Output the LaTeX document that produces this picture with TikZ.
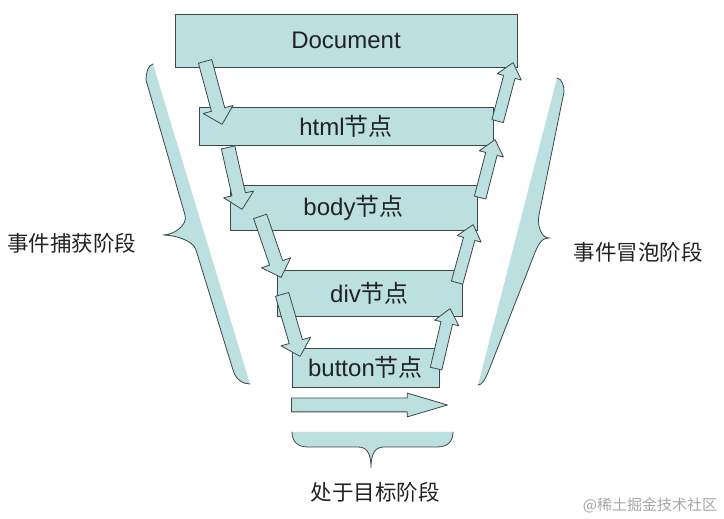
\documentclass[tikz,border=0pt]{standalone}
\usepackage{fontspec}
\setmainfont{Liberation Sans}
\newfontfamily\cjk{Noto Sans CJK SC}
\usepackage{tikz}
\usetikzlibrary{calc,shapes.arrows}
\definecolor{fillc}{HTML}{BCE0E0}
\definecolor{edge}{HTML}{3C4848}
\definecolor{ink}{HTML}{222222}
\tikzset{
  box/.style={draw=edge, fill=fillc, line width=0.8pt, inner sep=0pt, text=ink, font=\fontsize{24}{28}\selectfont},
  arr/.style={single arrow, draw=edge, fill=fillc, line width=0.8pt, line join=round, inner xsep=0pt, minimum width=0pt, anchor=tail},
  caparrow/.style={arr, inner ysep=6.5pt, single arrow head extend=8.5pt, single arrow tip angle=90},
  bubarrow/.style={arr, inner ysep=5.5pt, single arrow head extend=6.5pt, single arrow tip angle=80},
  tgtarrow/.style={arr, inner ysep=6.5pt, single arrow head extend=5pt, single arrow tip angle=33},
  brc/.style={fill=fillc},
  brcline/.style={draw=edge, line width=0.8pt, line cap=round},
  phase/.style={text=ink, font=\cjk\fontsize{21.5}{24}\selectfont},
  wmark/.style={text=black!35, font=\cjk\fontsize{15}{17}\selectfont},
}
% block arrow from #3 to #4
\newcommand{\blockarrow}[4]{%
  \path let \p1=($(#4)-(#3)$), \n1={atan2(\y1,\x1)}, \n2={veclen(\x1,\y1)} in
    node[#1, rotate=\n1, minimum height=\n2] (#2) at (#3) {};
}
\def\leftbrace{(153,455) .. controls (148,454) and (146,446) .. (146,439) -- (185,304)
  .. controls (188,294) and (174,284) .. (163,284) .. controls (174,284) and (193,279) .. (196,269)
  -- (233,149) .. controls (236,139) and (243,135) .. (250,135)}
\def\rightbrace{(557,441) .. controls (562,440) and (564,434) .. (564,427) -- (539,304)
  .. controls (537,294) and (541,281) .. (549,281) .. controls (541,281) and (538,274) .. (534,264)
  -- (489,149) .. controls (485,139) and (482,134) .. (478,134)}
\def\bottombrace{(292,87) .. controls (292,77) and (298,72) .. (308,72) -- (358,72)
  .. controls (366,72) and (371,67) .. (371,51) .. controls (371,67) and (376,72) .. (384,72)
  -- (437,72) .. controls (447,72) and (453,77) .. (453,87)}
\begin{document}
\begin{tikzpicture}[x=1pt,y=1pt]
  \useasboundingbox (0,0) rectangle (724,519);

  % braces
  \fill[brc] \leftbrace -- cycle;
  \draw[brcline] \leftbrace;
  \fill[brc] \rightbrace -- cycle;
  \draw[brcline] \rightbrace;
  \fill[brc] \bottombrace -- cycle;
  \draw[brcline] \bottombrace;

  % DOM levels
  \node[box, minimum width=342, minimum height=53] (doc) at (346,478.5) {Document};
  \node[box, minimum width=294, minimum height=38] (html) at (346,393) {html{\cjk 节点}};
  \node[box, minimum width=247, minimum height=45] (body) at (353.5,311.5) {body{\cjk 节点}};
  \node[box, minimum width=185, minimum height=46] (div) at (369.5,226) {div{\cjk 节点}};
  \node[box, minimum width=147, minimum height=39] (button) at (365.5,151.5) {button{\cjk 节点}};

  % capture
  \coordinate (cap1a) at (205,458);   \coordinate (cap1b) at (222,395);
  \coordinate (cap2a) at (228,372);   \coordinate (cap2b) at (242,310);
  \coordinate (cap3a) at (260,303);   \coordinate (cap3b) at (281,242);
  \coordinate (cap4a) at (282,225);   \coordinate (cap4b) at (300,163);
  \blockarrow{caparrow}{cap1}{cap1a}{cap1b}
  \blockarrow{caparrow}{cap2}{cap2a}{cap2b}
  \blockarrow{caparrow}{cap3}{cap3a}{cap3b}
  \blockarrow{caparrow}{cap4}{cap4a}{cap4b}

  % bubble
  \coordinate (bub1a) at (436,150);   \coordinate (bub1b) at (450,210);
  \coordinate (bub2a) at (457,236);   \coordinate (bub2b) at (473,294);
  \coordinate (bub3a) at (480,321);   \coordinate (bub3b) at (495,379);
  \coordinate (bub4a) at (497.5,397.5); \coordinate (bub4b) at (513,456);
  \blockarrow{bubarrow}{bub1}{bub1a}{bub1b}
  \blockarrow{bubarrow}{bub2}{bub2a}{bub2b}
  \blockarrow{bubarrow}{bub3}{bub3a}{bub3b}
  \blockarrow{bubarrow}{bub4}{bub4a}{bub4b}

  % target
  \coordinate (tgta) at (291,114);    \coordinate (tgtb) at (447,114);
  \blockarrow{tgtarrow}{tgt}{tgta}{tgtb}

  \node[phase] (capture) at (72,276) {事件捕获阶段};
  \node[phase] (bubble) at (638,267) {事件冒泡阶段};
  \node[phase] (target) at (375,27) {处于目标阶段};
  \node[wmark] (mark) at (650,14) {@稀土掘金技术社区};
\end{tikzpicture}
\end{document}
